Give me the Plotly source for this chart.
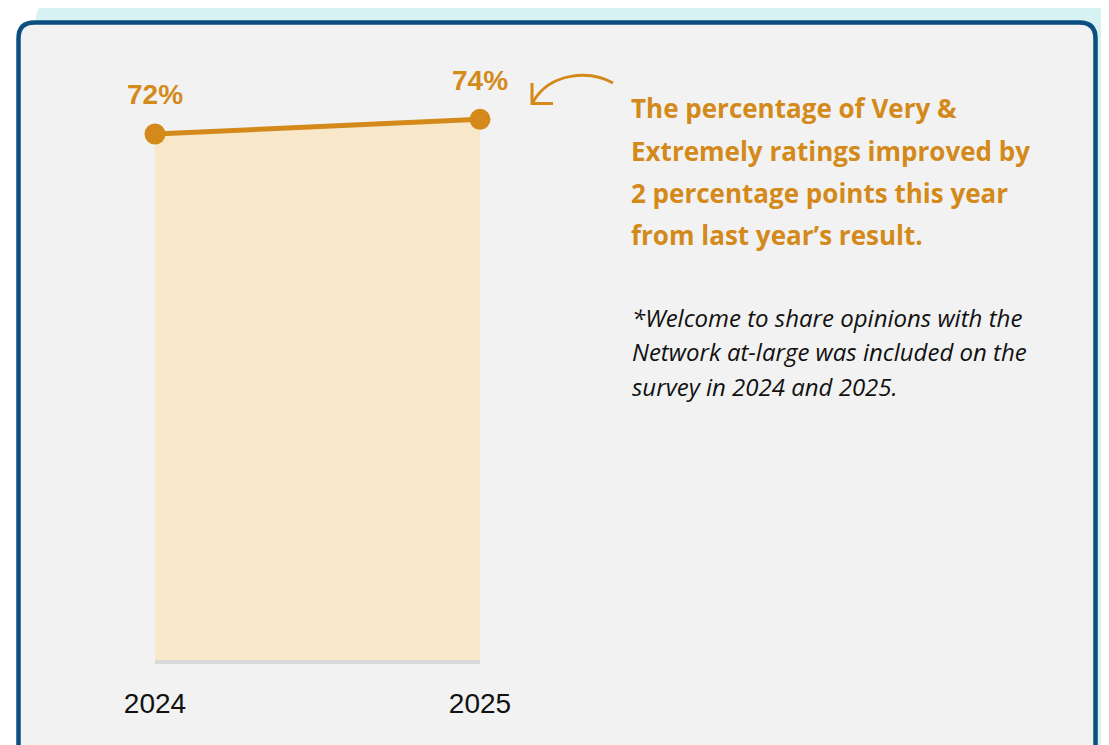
import plotly.graph_objects as go

# ---- data ----
years = [2024, 2025]
values = [72, 74]
year_labels = ["2024", "2025"]
headline_lines = [
    "The percentage of Very &",
    "Extremely ratings improved by",
    "2 percentage points this year",
    "from last year\u2019s result.",
]
note_lines = [
    "*Welcome to share opinions with the",
    "Network at-large was included on the",
    "survey in 2024 and 2025.",
]

# page body has an 8px margin; figure is sized to fit the window exactly
OFF = 8
W, H = 1109 - OFF, 745 - OFF
GOLD = "#d38a1a"
FILL = "#f8e7c9"


def px(x, y):
    return (x - OFF) / W, 1 - (y - OFF) / H


def ppath(cmds):
    out = []
    for c in cmds:
        if isinstance(c, str):
            out.append(c)
        else:
            x, y = px(*c)
            out.append(f"{x:.5f},{y:.5f}")
    return " ".join(out)


def rrect(x0, y0, x1, y1, r):
    return ppath([
        "M", (x0 + r, y0), "L", (x1 - r, y0), "Q", (x1, y0), (x1, y0 + r),
        "L", (x1, y1 - r), "Q", (x1, y1), (x1 - r, y1),
        "L", (x0 + r, y1), "Q", (x0, y1), (x0, y1 - r),
        "L", (x0, y0 + r), "Q", (x0, y0), (x0 + r, y0), "Z",
    ])


fig = go.Figure()
fig.add_trace(go.Scatter(
    x=years, y=values, mode="lines+markers",
    fill="tozeroy", fillcolor=FILL,
    line=dict(color=GOLD, width=5),
    marker=dict(color=GOLD, size=21),
    cliponaxis=False, hoverinfo="skip", showlegend=False,
))

shapes = [
    dict(type="path", xref="paper", yref="paper", layer="below",
         path=rrect(36, 4, 1107, 780, 15), fillcolor="#d6f2f2",
         line=dict(width=0)),
    dict(type="path", xref="paper", yref="paper", layer="below",
         path=rrect(18.5, 22.5, 1095.5, 790, 16), fillcolor="#f2f2f2",
         line=dict(color="#0b4f80", width=4.5)),
    dict(type="path", xref="paper", yref="paper", layer="above",
         path=ppath(["M", (613, 83), "C", (590, 70), (550, 72), (533, 102)]),
         line=dict(color=GOLD, width=3)),
    dict(type="path", xref="paper", yref="paper", layer="above",
         path=ppath(["M", (532, 83), "L", (532, 103.5), "L", (553, 103.5)]),
         line=dict(color=GOLD, width=3)),
]

annotations = []
for x, v in zip(years, values):
    annotations.append(dict(
        x=x, y=v, xref="x", yref="y", text=f"<b>{v}%</b>", showarrow=False,
        yshift=39, font=dict(family="Liberation Sans", size=28, color=GOLD),
    ))

head_y = [108, 151, 193, 235]
for t, y in zip(headline_lines, head_y):
    ax, ay = px(629, y)
    annotations.append(dict(
        x=ax, y=ay, xref="paper", yref="paper", text=f"<b>{t}</b>",
        showarrow=False, xanchor="left", yanchor="middle",
        font=dict(family="Open Sans", size=26, color=GOLD),
    ))

note_y = [317, 351, 386]
for t, y in zip(note_lines, note_y):
    ax, ay = px(630, y)
    annotations.append(dict(
        x=ax, y=ay, xref="paper", yref="paper", text=f"<i>{t}</i>",
        showarrow=False, xanchor="left", yanchor="middle",
        font=dict(family="Open Sans", size=24, color="#111111"),
    ))

x0p, _ = px(155, 0)
x1p, _ = px(480, 0)
_, ybase = px(0, 660)
fig.update_layout(
    width=W, height=H,
    margin=dict(l=0, r=0, t=0, b=0, autoexpand=False),
    paper_bgcolor="white", plot_bgcolor="rgba(0,0,0,0)",
    shapes=shapes, annotations=annotations,
    xaxis=dict(
        domain=[x0p, x1p], range=[2024, 2025], automargin=False,
        tickvals=years, ticktext=year_labels,
        showgrid=False, zeroline=False,
        showline=True, linecolor="#d9d9d9", linewidth=4,
        ticks="outside", ticklen=15, tickcolor="rgba(0,0,0,0)",
        tickfont=dict(family="Liberation Sans", size=28, color="#111111"),
    ),
    yaxis=dict(
        domain=[ybase, 1], range=[0, (660 - OFF) / 7.306],
        visible=False, showgrid=False, zeroline=False, automargin=False,
    ),
)

fig.write_html("out.html")
